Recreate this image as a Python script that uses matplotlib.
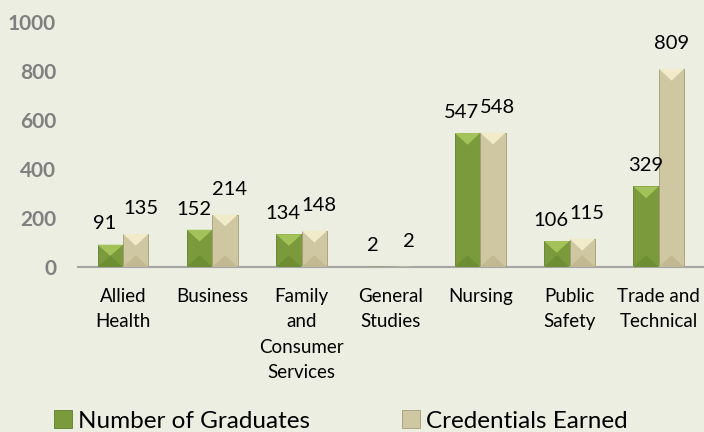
import numpy as np
import matplotlib.pyplot as plt
from matplotlib.patches import Polygon

categories = ['Allied\nHealth', 'Business', 'Family\nand\nConsumer\nServices',
              'General\nStudies', 'Nursing', 'Public\nSafety', 'Trade and\nTechnical']
graduates = [91, 152, 134, 2, 547, 106, 329]
credentials = [135, 214, 148, 2, 548, 115, 809]
yticks = [0, 200, 400, 600, 800, 1000]

bg = '#ebeee0'
green = '#7a9a3c'
beige = '#cfc7a2'

plt.rcParams['font.family'] = ['Lato', 'DejaVu Sans']

W, H = 704, 432
fig = plt.figure(figsize=(W / 100, H / 100), dpi=100, facecolor=bg)
# category spacing ~89.3 px, first centre at 123 px
ax = fig.add_axes([78.4 / W, 1 - 267 / H, (W - 78.4) / W, 245 / H])
ax.set_facecolor(bg)

x = np.arange(len(categories))
w = 0.285
b1 = ax.bar(x - w / 2, graduates, w, color=green, edgecolor='#5f7d2a', linewidth=0.6,
            label='Number of Graduates', zorder=2)
b2 = ax.bar(x + w / 2, credentials, w, color=beige, edgecolor='#a59c78', linewidth=0.6,
            label='Credentials Earned', zorder=2)


def bevel(bars, light, dark):
    for b in bars:
        x0 = b.get_x()
        x1 = x0 + b.get_width()
        h = b.get_height()
        cx = (x0 + x1) / 2
        d = min(48, h / 2)
        ax.add_patch(Polygon([(x0, h), (x1, h), (cx, h - d)], closed=True,
                             facecolor=light, edgecolor='none', zorder=3))
        ax.add_patch(Polygon([(x0, 0), (x1, 0), (cx, d)], closed=True,
                             facecolor=dark, edgecolor='none', zorder=3))


bevel(b1, '#a3c35a', '#6e8e33')
bevel(b2, '#f1ebc9', '#c2b993')

# value labels; nudge apart when the pair would collide
for i in range(len(categories)):
    g, c = graduates[i], credentials[i]
    close = abs(g - c) < 150
    dg = -0.065 if close else 0
    dc = 0.055 if close else 0
    ax.text(x[i] - w / 2 + dg, g + 50, str(g), ha='center', va='bottom',
            fontsize=14.5, color='black')
    ax.text(x[i] + w / 2 + dc, c + 68, str(c), ha='center', va='bottom',
            fontsize=14.5, color='black')

ax.set_ylim(0, 1000)
ax.set_xlim(-0.5, (W - 123) / 89.3)
ax.set_yticks(yticks)
ax.set_yticklabels([str(t) for t in yticks], fontsize=15, fontweight='bold', color='#808080')
ax.set_xticks(x)
ax.set_xticklabels(categories, fontsize=13.5, linespacing=1.6, va='top')
ax.tick_params(axis='y', length=0, pad=16)
ax.tick_params(axis='x', length=0, pad=15)
for s in ['top', 'right', 'left']:
    ax.spines[s].set_visible(False)
ax.spines['bottom'].set_color('#a6a6a6')
ax.spines['bottom'].set_linewidth(1.5)

for handle, xpos in ((b1, 54), (b2, 402)):
    fig.legend(handles=[handle], loc='center left', bbox_to_anchor=(xpos / W, 1 - 421 / H),
               frameon=False, fontsize=17.5, handlelength=0.72, handleheight=0.72,
               handletextpad=0.25, borderpad=0, borderaxespad=0)

fig.savefig('out.png', dpi=100, facecolor=bg)
